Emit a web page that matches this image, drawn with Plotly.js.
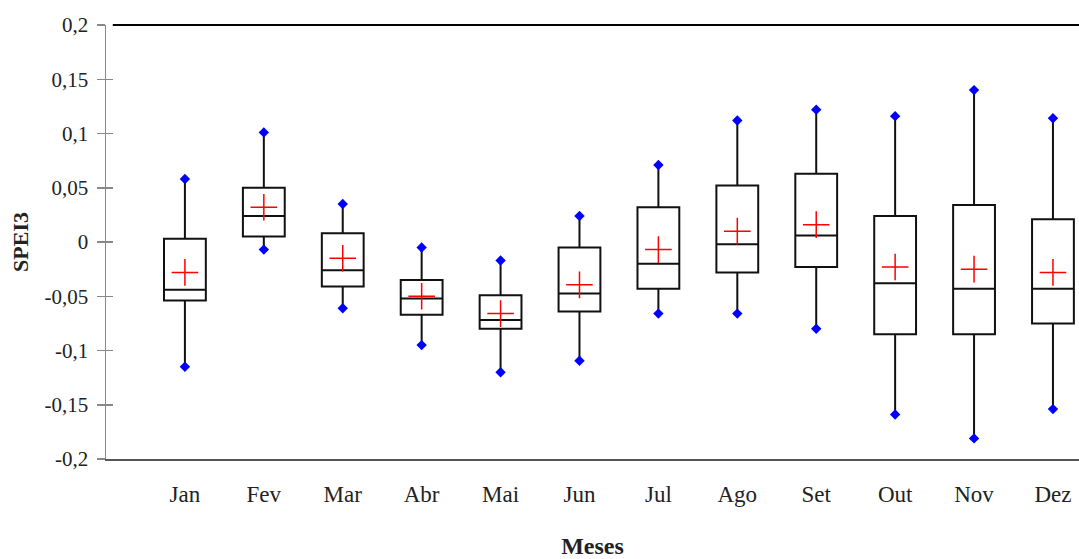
<!DOCTYPE html>
<html>
<head>
<meta charset="utf-8">
<script src="https://cdn.plot.ly/plotly-3.0.1.min.js"></script>
<style>html,body{margin:0;padding:0;background:#fff;}#chart{width:1079px;height:559px;}</style>
</head>
<body>
<div id="chart"></div>
<script>
var months = ["Jan","Fev","Mar","Abr","Mai","Jun","Jul","Ago","Set","Out","Nov","Dez"];
var minVals    = [-0.115,-0.007,-0.061,-0.095,-0.120,-0.1095,-0.066,-0.066,-0.080,-0.159,-0.181,-0.154];
var q1Vals     = [-0.054, 0.005,-0.041,-0.067,-0.080,-0.064,-0.043,-0.028,-0.023,-0.085,-0.085,-0.075];
var medianVals = [-0.044, 0.024,-0.026,-0.052,-0.072,-0.0475,-0.020,-0.002, 0.006,-0.038,-0.043,-0.043];
var q3Vals     = [ 0.003, 0.050, 0.008,-0.035,-0.049,-0.005, 0.032, 0.052, 0.063, 0.024, 0.034, 0.021];
var maxVals    = [ 0.058, 0.101, 0.035,-0.005,-0.017, 0.024, 0.071, 0.112, 0.122, 0.116, 0.140, 0.114];
var meanVals   = [-0.028, 0.032,-0.015,-0.050,-0.066,-0.0395,-0.007, 0.010, 0.016,-0.023,-0.025,-0.028];
var yTickVals  = [0.2,0.15,0.1,0.05,0,-0.05,-0.1,-0.15,-0.2];
var yTickText  = ["0,2","0,15","0,1","0,05","0","-0,05","-0,1","-0,15","-0,2"];

var serif = "Liberation Serif, Times New Roman, serif";

var traces = [
  {
    type: "box",
    x: months,
    q1: q1Vals, median: medianVals, q3: q3Vals,
    lowerfence: minVals, upperfence: maxVals,
    boxpoints: false,
    width: 0.53,
    whiskerwidth: 0,
    fillcolor: "#ffffff",
    line: {color: "#111111", width: 2},
    hoverinfo: "skip",
    showlegend: false
  },
  {
    type: "scatter", mode: "markers",
    x: months.concat(months),
    y: minVals.concat(maxVals),
    marker: {symbol: "diamond", size: 8, color: "#0000ff"},
    showlegend: false, hoverinfo: "skip"
  },
  {
    type: "scatter", mode: "markers",
    x: months, y: meanVals,
    marker: {symbol: "cross-thin", size: 19, color: "#ff0000", line: {color: "#ff0000", width: 1.5}},
    showlegend: false, hoverinfo: "skip"
  }
];

var layout = {
  width: 1079, height: 559,
  margin: {l: 106, r: 0, t: 25, b: 100},
  paper_bgcolor: "#ffffff", plot_bgcolor: "#ffffff",
  font: {family: serif, color: "#222222"},
  showlegend: false,
  xaxis: {
    type: "category",
    range: [-1.0, 11.33],
    showgrid: false, zeroline: false,
    showline: true, linecolor: "#555555", linewidth: 2,
    ticks: "", ticklabelstandoff: 13,
    tickfont: {family: serif, size: 23, color: "#222222"},
    title: {text: "<b>Meses</b>", font: {family: serif, size: 24, color: "#222222"}, standoff: 33}
  },
  yaxis: {
    range: [-0.2, 0.2],
    tickvals: yTickVals, ticktext: yTickText,
    showgrid: false, zeroline: false,
    showline: true, linecolor: "#888888", linewidth: 1.5,
    ticks: "outside", ticklen: 8, tickcolor: "#888888", tickwidth: 1.5,
    ticklabelstandoff: 4,
    tickfont: {family: serif, size: 21, color: "#222222"},
    title: {text: "<b>SPEI3</b>", font: {family: serif, size: 22, color: "#222222"}, standoff: 10}
  },
  yaxis2: {
    overlaying: "y", range: [-0.2, 0.2],
    tickvals: yTickVals, showticklabels: false,
    showgrid: false, zeroline: false, showline: false,
    ticks: "inside", ticklen: 7, tickcolor: "#888888", tickwidth: 1.5
  },
  shapes: [
    {type: "line", xref: "paper", yref: "paper", x0: 0.007, x1: 1, y0: 1, y1: 1,
     line: {color: "#000000", width: 2}}
  ]
};

traces.push({type: "scatter", x: [months[0]], y: [0], yaxis: "y2", mode: "markers",
  marker: {opacity: 0}, showlegend: false, hoverinfo: "skip"});

Plotly.newPlot("chart", traces, layout, {displayModeBar: false, staticPlot: true});
</script>
</body>
</html>
